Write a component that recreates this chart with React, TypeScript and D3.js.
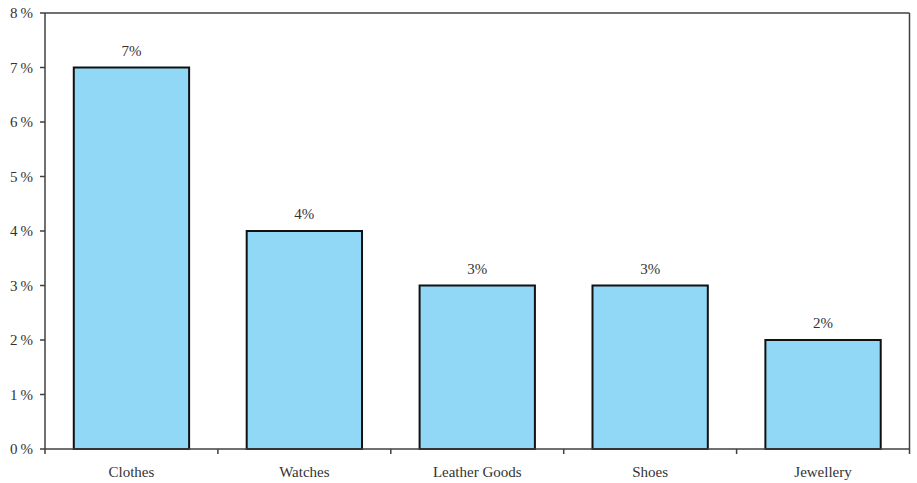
import React from "react";
import * as d3 from "d3";

const categories = ["Clothes", "Watches", "Leather Goods", "Shoes", "Jewellery"];
const values = [7, 4, 3, 3, 2];
const yTicks = [0, 1, 2, 3, 4, 5, 6, 7, 8];

export default function App() {
  const W = 917, H = 483;
  const left = 45, right = 909.5, top = 13, bottom = 449;
  const x = d3.scaleBand<string>().domain(categories).range([left, right]).paddingInner(0.333).paddingOuter(0.1665);
  const xb = d3.scaleBand<string>().domain(categories).range([left, right]);
  const y = d3.scaleLinear().domain([0, 8]).range([bottom, top]);
  const font = "'Liberation Serif', 'DejaVu Serif', serif";
  const axisColor = "#404040";
  return (
    <svg width={W} height={H} style={{ position: "absolute", left: 0, top: 0, background: "#fff" }}>
      <g fontFamily={font} fontSize={15} fill="#333">
        {categories.map((c, i) => (
          <rect key={c} x={x(c)} y={y(values[i])} width={x.bandwidth()} height={bottom - y(values[i])}
            fill="#90d8f6" stroke="#111" strokeWidth={2} />
        ))}
        {categories.map((c, i) => (
          <text key={"v" + c} x={x(c)! + x.bandwidth() / 2} y={y(values[i]) - 12} textAnchor="middle">{values[i]}%</text>
        ))}
        <line x1={left} x2={right} y1={top} y2={top} stroke={axisColor} strokeWidth={1.5} />
        <line x1={right} x2={right} y1={top} y2={bottom} stroke={axisColor} strokeWidth={1.5} />
        <line x1={left} x2={left} y1={top} y2={bottom} stroke={axisColor} strokeWidth={1.5} />
        <line x1={left} x2={right} y1={bottom} y2={bottom} stroke={axisColor} strokeWidth={1.5} />
        {yTicks.map(t => (
          <g key={"y" + t}>
            <line x1={left - 5} x2={left} y1={y(t)} y2={y(t)} stroke={axisColor} strokeWidth={1.5} />
            <text x={33} y={y(t) + 5} textAnchor="end">{t}&#8201;%</text>
          </g>
        ))}
        {categories.map(c => (
          <line key={"xt" + c} x1={xb(c)} x2={xb(c)} y1={bottom} y2={bottom + 5} stroke={axisColor} strokeWidth={1.5} />
        ))}
        <line x1={right} x2={right} y1={bottom} y2={bottom + 5} stroke={axisColor} strokeWidth={1.5} />
        {categories.map(c => (
          <text key={"xl" + c} x={xb(c)! + xb.bandwidth() / 2} y={477} textAnchor="middle">{c}</text>
        ))}
      </g>
    </svg>
  );
}
